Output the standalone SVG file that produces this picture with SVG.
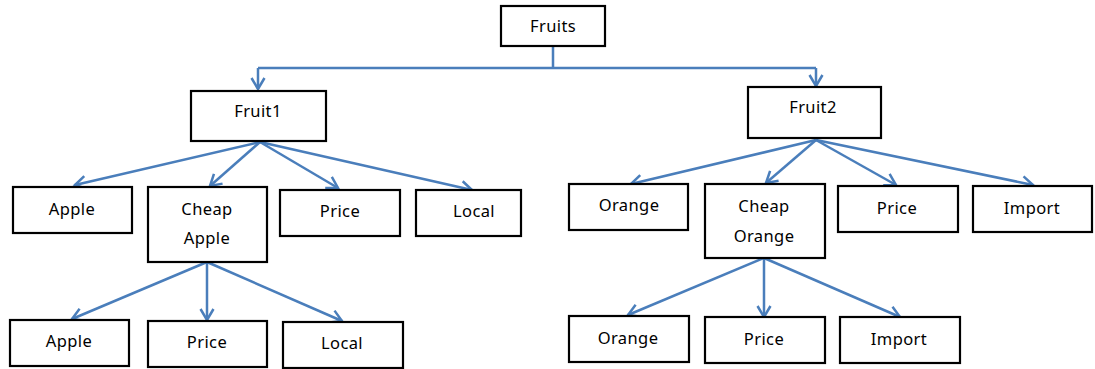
<svg xmlns="http://www.w3.org/2000/svg" width="1095" height="369" viewBox="0 0 1095 369">
<style>
.box{fill:#fff;stroke:#000;stroke-width:2.2}
.t{font-family:"Noto Sans","Liberation Sans",sans-serif;font-size:16.5px;fill:#000;text-anchor:middle;letter-spacing:0.4px}
.c{fill:none;stroke:#4a7ebb;stroke-width:2.5;marker-end:url(#arr)}
.l{fill:none;stroke:#4a7ebb;stroke-width:2.5}
</style>
<defs>
<marker id="arr" markerUnits="userSpaceOnUse" markerWidth="16" markerHeight="16" refX="12" refY="8" orient="auto" viewBox="0 0 16 16">
<path d="M1,1.5 L12,8 L1,14.5" fill="none" stroke="#4a7ebb" stroke-width="2.5"/>
</marker>
</defs>
<rect width="1095" height="369" fill="#fff"/>
<g id="connectors">
<path class="l" d="M553,47 V68 M258,68 H816"/>
<path class="c" d="M258,68 V89"/>
<path class="c" d="M816,68 V86"/>
<path class="c" d="M260,142 L75,185"/>
<path class="c" d="M260,142 L210,186"/>
<path class="c" d="M260,142 L338,188"/>
<path class="c" d="M260,142 L472,190"/>
<path class="c" d="M816,140 L631,184"/>
<path class="c" d="M816,140 L766,183"/>
<path class="c" d="M816,140 L896,185"/>
<path class="c" d="M816,140 L1033,185"/>
<path class="c" d="M207,262 L72,319"/>
<path class="c" d="M207,262 L207,320"/>
<path class="c" d="M207,262 L342,321"/>
<path class="c" d="M764,258 L628,315"/>
<path class="c" d="M764,258 L764,317"/>
<path class="c" d="M764,258 L900,317"/>
</g>
<g id="fruits"><rect class="box" x="501" y="6" width="104" height="40"/><text class="t" x="553" y="32">Fruits</text></g>
<g id="fruit1"><rect class="box" x="191" y="91" width="135" height="50"/><text class="t" x="258" y="117">Fruit1</text></g>
<g id="fruit2"><rect class="box" x="748" y="87" width="133" height="51"/><text class="t" x="813" y="113">Fruit2</text></g>
<g id="apple1"><rect class="box" x="13" y="187" width="119" height="46"/><text class="t" x="72" y="215">Apple</text></g>
<g id="cheapapple"><rect class="box" x="148" y="187" width="119" height="75"/><text class="t" x="207" y="215">Cheap</text><text class="t" x="207" y="244">Apple</text></g>
<g id="price1"><rect class="box" x="280" y="190" width="120" height="46"/><text class="t" x="340" y="217">Price</text></g>
<g id="local1"><rect class="box" x="416" y="190" width="105" height="46"/><text class="t" x="474" y="217">Local</text></g>
<g id="orange1"><rect class="box" x="569" y="184" width="119" height="46"/><text class="t" x="629" y="211">Orange</text></g>
<g id="cheaporange"><rect class="box" x="705" y="184" width="120" height="74"/><text class="t" x="764" y="212">Cheap</text><text class="t" x="764" y="242">Orange</text></g>
<g id="price2"><rect class="box" x="838" y="186" width="120" height="46"/><text class="t" x="897" y="214">Price</text></g>
<g id="import1"><rect class="box" x="973" y="186" width="119" height="46"/><text class="t" x="1032" y="214">Import</text></g>
<g id="apple2"><rect class="box" x="10" y="320" width="119" height="46"/><text class="t" x="69" y="347">Apple</text></g>
<g id="price3"><rect class="box" x="148" y="321" width="119" height="46"/><text class="t" x="207" y="348">Price</text></g>
<g id="local2"><rect class="box" x="283" y="322" width="120" height="46"/><text class="t" x="342" y="349">Local</text></g>
<g id="orange2"><rect class="box" x="569" y="316" width="120" height="46"/><text class="t" x="628" y="344">Orange</text></g>
<g id="price4"><rect class="box" x="705" y="317" width="120" height="46"/><text class="t" x="764" y="345">Price</text></g>
<g id="import2"><rect class="box" x="840" y="317" width="120" height="46"/><text class="t" x="899" y="345">Import</text></g>
</svg>
